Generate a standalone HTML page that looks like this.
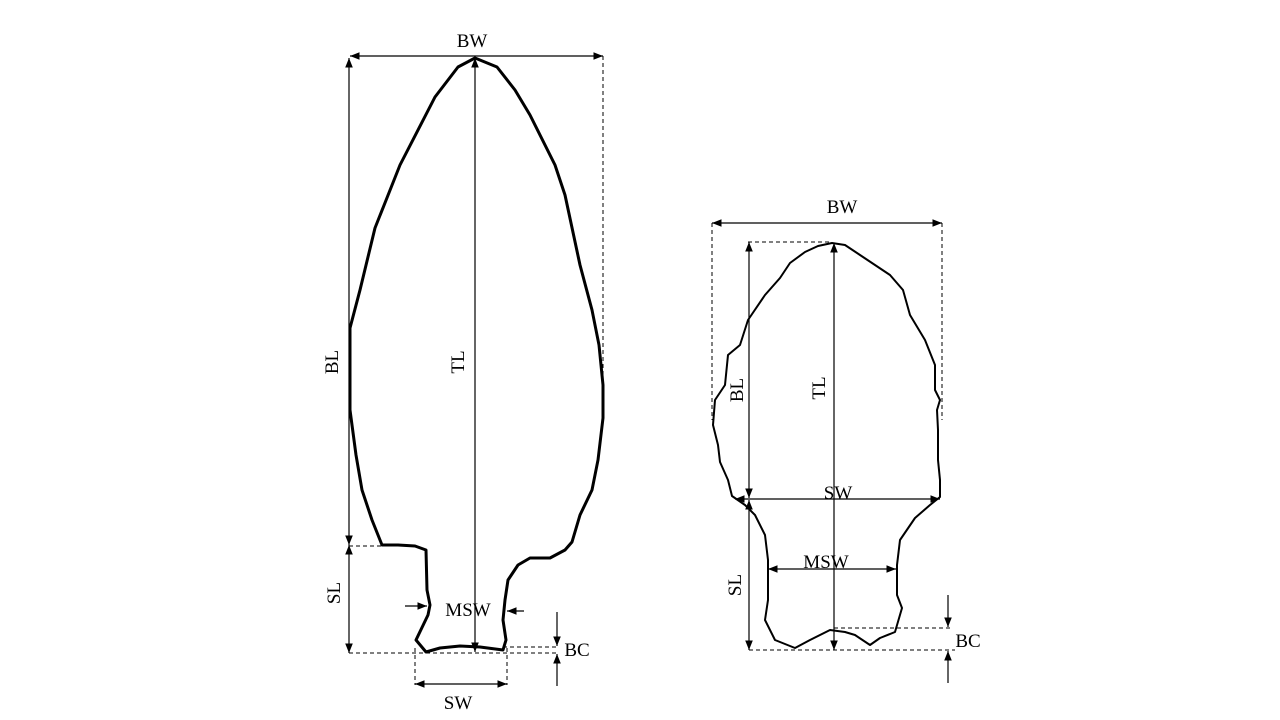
<!DOCTYPE html>
<html><head><meta charset="utf-8"><style>
html,body{margin:0;padding:0;background:#fff;width:1280px;height:720px;overflow:hidden}
text{font-family:"Liberation Serif",serif;font-size:19px;fill:#000}
</style></head><body>
<svg width="1280" height="720" viewBox="0 0 1280 720" xmlns="http://www.w3.org/2000/svg">
<defs>
<marker id="a" viewBox="0 0 10 10" refX="10" refY="5" markerWidth="8" markerHeight="8" orient="auto-start-reverse"><path d="M0,1 L10,5 L0,9 z" fill="#000"/></marker>
</defs>
<path d="M475,58 L458,67 L435,97 L400,165 L375,228 L360,290 L350,328 L350,410 L356,455 L362,490 L372,520 L382,545 L398,545 L415,546 L426,550 L427,590 L430,605 L428,615 L416,640 L426,652 L440,648 L460,646 L480,647 L503,650 L506,640 L503,620 L505,600 L508,580 L518,565 L530,558 L550,558 L565,550 L572,542 L580,515 L592,490 L598,460 L603,418 L603,385 L599,345 L592,310 L580,265 L565,195 L555,165 L530,115 L515,90 L497,67 Z" fill="none" stroke="#000" stroke-width="3" stroke-linejoin="round"/>
<g stroke="#000" stroke-width="1.2" fill="none">
<line x1="350" y1="56" x2="603" y2="56" marker-start="url(#a)" marker-end="url(#a)"/>
<line x1="349" y1="58" x2="349" y2="545" marker-start="url(#a)" marker-end="url(#a)"/>
<line x1="475" y1="58" x2="475" y2="652" marker-start="url(#a)" marker-end="url(#a)"/>
<line x1="349" y1="545" x2="349" y2="653" marker-start="url(#a)" marker-end="url(#a)"/>
<line x1="405" y1="606" x2="427" y2="606" marker-end="url(#a)"/>
<line x1="524" y1="611" x2="507" y2="611" marker-end="url(#a)"/>
<line x1="557" y1="612" x2="557" y2="646" marker-end="url(#a)"/>
<line x1="557" y1="686" x2="557" y2="654" marker-end="url(#a)"/>
<line x1="415" y1="684" x2="507" y2="684" marker-start="url(#a)" marker-end="url(#a)"/>
</g>
<g stroke="#000" stroke-width="1" stroke-dasharray="4,3" fill="none">
<line x1="603" y1="56" x2="603" y2="400"/>
<line x1="349" y1="546" x2="385" y2="546"/>
<line x1="349" y1="653" x2="556" y2="653"/>
<line x1="503" y1="647" x2="556" y2="647"/>
<line x1="415" y1="648" x2="415" y2="685"/>
<line x1="507" y1="648" x2="507" y2="685"/>
</g>
<text x="472" y="47" text-anchor="middle">BW</text>
<text transform="translate(338,362) rotate(-90)" text-anchor="middle">BL</text>
<text transform="translate(464,362) rotate(-90)" text-anchor="middle">TL</text>
<text transform="translate(340,593) rotate(-90)" text-anchor="middle">SL</text>
<text x="468" y="616" text-anchor="middle">MSW</text>
<text x="577" y="656" text-anchor="middle">BC</text>
<text x="458" y="709" text-anchor="middle">SW</text>
<path d="M832,243 L818,246 L805,252 L790,263 L780,278 L765,295 L748,320 L740,345 L728,355 L725,385 L715,400 L713,425 L718,445 L720,462 L728,480 L732,496 L745,505 L755,515 L765,535 L768,560 L768,600 L765,620 L775,640 L795,648 L810,640 L830,630 L845,632 L855,635 L870,645 L880,638 L895,632 L902,608 L897,595 L897,565 L900,540 L915,518 L930,505 L940,497 L940,480 L938,460 L938,430 L937,410 L940,400 L935,390 L935,365 L925,340 L910,315 L903,290 L890,275 L875,265 L860,255 L845,245 Z" fill="none" stroke="#000" stroke-width="2" stroke-linejoin="round"/>
<g stroke="#000" stroke-width="1.2" fill="none">
<line x1="712" y1="223" x2="942" y2="223" marker-start="url(#a)" marker-end="url(#a)"/>
<line x1="749" y1="242" x2="749" y2="498" marker-start="url(#a)" marker-end="url(#a)"/>
<line x1="834" y1="243" x2="834" y2="650" marker-start="url(#a)" marker-end="url(#a)"/>
<line x1="735" y1="499" x2="940" y2="499" marker-start="url(#a)" marker-end="url(#a)"/>
<line x1="749" y1="500" x2="749" y2="650" marker-start="url(#a)" marker-end="url(#a)"/>
<line x1="768" y1="569" x2="896" y2="569" marker-start="url(#a)" marker-end="url(#a)"/>
<line x1="948" y1="595" x2="948" y2="627" marker-end="url(#a)"/>
<line x1="948" y1="683" x2="948" y2="651" marker-end="url(#a)"/>
</g>
<g stroke="#000" stroke-width="1" stroke-dasharray="4,3" fill="none">
<line x1="712" y1="223" x2="712" y2="420"/>
<line x1="942" y1="223" x2="942" y2="420"/>
<line x1="748" y1="242" x2="832" y2="242"/>
<line x1="834" y1="628" x2="950" y2="628"/>
<line x1="749" y1="650" x2="955" y2="650"/>
</g>
<text x="842" y="213" text-anchor="middle">BW</text>
<text transform="translate(743,390) rotate(-90)" text-anchor="middle">BL</text>
<text transform="translate(825,388) rotate(-90)" text-anchor="middle">TL</text>
<text x="838" y="499" text-anchor="middle">SW</text>
<text transform="translate(741,585) rotate(-90)" text-anchor="middle">SL</text>
<text x="826" y="568" text-anchor="middle">MSW</text>
<text x="968" y="647" text-anchor="middle">BC</text>
</svg>
</body></html>
